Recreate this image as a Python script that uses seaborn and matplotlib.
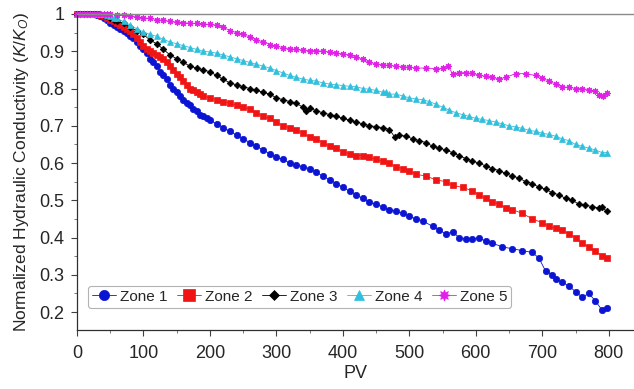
import matplotlib
matplotlib.use("Agg")
import matplotlib.pyplot as plt
from matplotlib.ticker import MultipleLocator
import seaborn as sns
import pandas as pd

zone1_pv = [0, 5, 10, 15, 20, 25, 30, 35, 40, 45, 50, 55, 60, 65, 70, 75, 80, 85, 90, 95, 100, 105, 110, 115, 120, 125, 130, 135, 140, 145, 150, 155, 160, 165, 170, 175, 180, 185, 190, 195, 200, 210, 220, 230, 240, 250, 260, 270, 280, 290, 300, 310, 320, 330, 340, 350, 360, 370, 380, 390, 400, 410, 420, 430, 440, 450, 460, 470, 480, 490, 500, 510, 520, 535, 545, 555, 565, 575, 585, 595, 605, 615, 625, 640, 655, 670, 685, 695, 705, 715, 720, 730, 740, 750, 760, 770, 780, 790, 797]
zone1_k = [1, 1, 1, 1, 1, 1, 0.998, 0.995, 0.99, 0.985, 0.975, 0.97, 0.965, 0.96, 0.955, 0.95, 0.94, 0.935, 0.925, 0.915, 0.905, 0.895, 0.88, 0.87, 0.86, 0.845, 0.835, 0.825, 0.81, 0.80, 0.79, 0.78, 0.77, 0.76, 0.755, 0.745, 0.74, 0.73, 0.725, 0.72, 0.715, 0.705, 0.695, 0.685, 0.675, 0.665, 0.655, 0.645, 0.635, 0.625, 0.615, 0.61, 0.60, 0.595, 0.59, 0.585, 0.575, 0.565, 0.555, 0.545, 0.535, 0.525, 0.515, 0.505, 0.495, 0.49, 0.482, 0.475, 0.47, 0.465, 0.458, 0.45, 0.445, 0.43, 0.42, 0.41, 0.415, 0.40, 0.395, 0.395, 0.40, 0.39, 0.385, 0.375, 0.37, 0.365, 0.36, 0.345, 0.31, 0.30, 0.29, 0.28, 0.27, 0.255, 0.24, 0.25, 0.23, 0.205, 0.21]

zone2_pv = [0, 5, 10, 15, 20, 25, 30, 35, 40, 45, 50, 55, 60, 65, 70, 75, 80, 85, 90, 95, 100, 105, 110, 115, 120, 125, 130, 135, 140, 145, 150, 155, 160, 165, 170, 175, 180, 185, 190, 200, 210, 220, 230, 240, 250, 260, 270, 280, 290, 300, 310, 320, 330, 340, 350, 360, 370, 380, 390, 400, 410, 420, 430, 440, 450, 460, 470, 480, 490, 500, 510, 525, 540, 555, 565, 580, 595, 605, 615, 625, 635, 645, 655, 670, 685, 700, 710, 720, 730, 740, 750, 760, 770, 780, 790, 797]
zone2_k = [1, 1, 1, 1, 1, 1, 1, 0.998, 0.995, 0.99, 0.985, 0.98, 0.975, 0.97, 0.965, 0.96, 0.955, 0.945, 0.935, 0.925, 0.915, 0.905, 0.90, 0.895, 0.89, 0.885, 0.88, 0.87, 0.86, 0.85, 0.84, 0.83, 0.82, 0.81, 0.80, 0.795, 0.79, 0.785, 0.78, 0.775, 0.77, 0.765, 0.76, 0.755, 0.75, 0.745, 0.735, 0.725, 0.72, 0.71, 0.70, 0.695, 0.69, 0.68, 0.67, 0.665, 0.655, 0.645, 0.64, 0.63, 0.625, 0.62, 0.62, 0.615, 0.61, 0.605, 0.60, 0.59, 0.585, 0.58, 0.57, 0.565, 0.555, 0.55, 0.54, 0.535, 0.525, 0.515, 0.505, 0.495, 0.49, 0.48, 0.475, 0.465, 0.45, 0.44, 0.43, 0.425, 0.42, 0.41, 0.40, 0.385, 0.375, 0.365, 0.35, 0.345]

zone3_pv = [0, 5, 10, 15, 20, 25, 30, 35, 40, 45, 50, 55, 60, 70, 80, 90, 100, 110, 120, 130, 140, 150, 160, 170, 180, 190, 200, 210, 220, 230, 240, 250, 260, 270, 280, 290, 300, 310, 320, 330, 340, 345, 350, 360, 370, 380, 390, 400, 410, 420, 430, 440, 450, 460, 470, 478, 485, 495, 505, 515, 525, 535, 545, 555, 565, 575, 585, 595, 605, 615, 625, 635, 645, 655, 665, 675, 685, 695, 705, 715, 725, 735, 745, 755, 765, 775, 785, 790, 797]
zone3_k = [1, 1, 1, 1, 1, 1, 1, 1, 0.998, 0.995, 0.99, 0.985, 0.98, 0.975, 0.965, 0.955, 0.945, 0.93, 0.92, 0.905, 0.89, 0.88, 0.87, 0.86, 0.855, 0.85, 0.845, 0.835, 0.825, 0.815, 0.81, 0.805, 0.80, 0.795, 0.79, 0.785, 0.775, 0.77, 0.765, 0.76, 0.75, 0.74, 0.748, 0.74, 0.735, 0.73, 0.725, 0.72, 0.715, 0.71, 0.705, 0.70, 0.698, 0.695, 0.69, 0.67, 0.675, 0.672, 0.665, 0.66, 0.655, 0.645, 0.64, 0.635, 0.628, 0.62, 0.612, 0.605, 0.60, 0.592, 0.585, 0.58, 0.572, 0.565, 0.56, 0.55, 0.545, 0.535, 0.53, 0.52, 0.515, 0.505, 0.50, 0.49, 0.487, 0.483, 0.48, 0.482, 0.47]

zone4_pv = [0, 5, 10, 15, 20, 25, 30, 35, 40, 45, 50, 55, 60, 70, 80, 90, 100, 110, 120, 130, 140, 150, 160, 170, 180, 190, 200, 210, 220, 230, 240, 250, 260, 270, 280, 290, 300, 310, 320, 330, 340, 350, 360, 370, 380, 390, 400, 410, 420, 430, 440, 450, 460, 465, 470, 480, 490, 500, 510, 520, 530, 540, 550, 560, 570, 580, 590, 600, 610, 620, 630, 640, 650, 660, 670, 680, 690, 700, 710, 720, 730, 740, 750, 760, 770, 780, 790, 797]
zone4_k = [1, 1, 1, 1, 1, 1, 1, 1, 1, 0.998, 0.995, 0.99, 0.988, 0.98, 0.97, 0.96, 0.952, 0.945, 0.94, 0.932, 0.925, 0.92, 0.915, 0.91, 0.905, 0.90, 0.898, 0.895, 0.89, 0.885, 0.88, 0.875, 0.87, 0.865, 0.86, 0.855, 0.848, 0.842, 0.835, 0.83, 0.825, 0.822, 0.82, 0.815, 0.812, 0.81, 0.808, 0.806, 0.805, 0.80, 0.798, 0.795, 0.79, 0.79, 0.785, 0.785, 0.78, 0.775, 0.772, 0.77, 0.765, 0.758, 0.75, 0.742, 0.735, 0.73, 0.725, 0.72, 0.717, 0.714, 0.71, 0.705, 0.70, 0.697, 0.693, 0.688, 0.685, 0.68, 0.677, 0.672, 0.665, 0.66, 0.65, 0.645, 0.64, 0.635, 0.628, 0.628]

zone5_pv = [0, 5, 10, 15, 20, 25, 30, 35, 40, 45, 50, 60, 70, 80, 90, 100, 110, 120, 130, 140, 150, 160, 170, 180, 190, 200, 210, 220, 230, 240, 250, 260, 270, 280, 290, 300, 310, 320, 330, 340, 350, 360, 370, 380, 390, 400, 410, 420, 430, 440, 450, 460, 470, 480, 490, 500, 510, 525, 540, 550, 558, 565, 575, 585, 595, 605, 615, 625, 635, 645, 660, 675, 690, 700, 710, 720, 730, 740, 750, 760, 770, 780, 785, 792, 797]
zone5_k = [1, 1, 1, 1, 1, 1, 1, 1, 1, 1, 1, 0.998, 0.997, 0.995, 0.993, 0.99, 0.988, 0.985, 0.983, 0.98, 0.978, 0.977, 0.975, 0.975, 0.973, 0.972, 0.97, 0.965, 0.955, 0.95, 0.945, 0.938, 0.93, 0.925, 0.918, 0.913, 0.91, 0.907, 0.905, 0.903, 0.902, 0.902, 0.90, 0.898, 0.895, 0.893, 0.89, 0.885, 0.878, 0.87, 0.866, 0.864, 0.862, 0.86, 0.858, 0.857, 0.855, 0.855, 0.853, 0.855, 0.86, 0.84, 0.842, 0.843, 0.841, 0.835, 0.833, 0.83, 0.825, 0.83, 0.84, 0.84, 0.835, 0.828, 0.82, 0.812, 0.805, 0.803, 0.80, 0.80, 0.797, 0.793, 0.783, 0.78, 0.787]

zone_names = ["Zone 1", "Zone 2", "Zone 3", "Zone 4", "Zone 5"]
x_ticks = [0, 100, 200, 300, 400, 500, 600, 700, 800]
y_ticks = [0.2, 0.3, 0.4, 0.5, 0.6, 0.7, 0.8, 0.9, 1.0]
y_tick_labels = ["0.2", "0.3", "0.4", "0.5", "0.6", "0.7", "0.8", "0.9", "1"]

series = [(zone1_pv, zone1_k), (zone2_pv, zone2_k), (zone3_pv, zone3_k),
          (zone4_pv, zone4_k), (zone5_pv, zone5_k)]
colors = ["#0a14d2", "#f01414", "#000000", "#30c0dc", "#e020e6"]
markers = ["o", "s", "D", "^", (8, 1, 0)]
msizes = [4.6, 5.0, 3.4, 4.2, 5.0]

sns.set_theme(style="white")
plt.rcParams["font.family"] = ["Liberation Sans", "DejaVu Sans"]
plt.rcParams["mathtext.fontset"] = "custom"
plt.rcParams["mathtext.rm"] = "Liberation Sans"
plt.rcParams["mathtext.it"] = "Liberation Sans:italic"

fig = plt.figure(figsize=(6.34, 3.89), dpi=100)
ax = fig.add_axes([77 / 634, 1 - 330 / 389, 557 / 634, 316 / 389])

frames = []
for name, (pv, k) in zip(zone_names, series):
    frames.append(pd.DataFrame({"PV": pv, "K": k, "Zone": name}))
df = pd.concat(frames, ignore_index=True)

handles = []
for name, c, m, ms in zip(zone_names, colors, markers, msizes):
    sub = df[df["Zone"] == name]
    sns.lineplot(data=sub, x="PV", y="K", ax=ax, color=c, lw=0.6,
                 marker=m, markersize=ms, markeredgecolor=c, markeredgewidth=0.5,
                 markerfacecolor=c, estimator=None, sort=False, clip_on=False,
                 legend=False)
    handles.append(ax.lines[-1])

ax.set_xlim(0, 838)
ax.set_ylim(0.152, 1.0)
ax.set_xticks(x_ticks)
ax.set_yticks(y_ticks)
ax.set_yticklabels(y_tick_labels)
ax.xaxis.set_minor_locator(MultipleLocator(50))
ax.yaxis.set_minor_locator(MultipleLocator(0.05))
ax.tick_params(axis="both", which="major", labelsize=13, length=4, width=0.8,
               direction="out", color="#404040", left=True, bottom=True)
ax.tick_params(axis="x", which="major", pad=7)
ax.tick_params(axis="y", which="major", pad=5)
ax.tick_params(axis="both", which="minor", length=2.5, width=0.6, direction="out",
               color="#606060", left=True, bottom=True)

for s in ["left", "bottom"]:
    ax.spines[s].set_color("#303030")
    ax.spines[s].set_linewidth(0.9)
ax.spines["top"].set_color("#8a8a8a")
ax.spines["top"].set_linewidth(1.0)
ax.spines["right"].set_visible(False)

ax.set_xlabel("PV", fontsize=13, labelpad=2)
ax.set_ylabel(r"Normalized Hydraulic Conductivity ($\mathit{K/K_O}$)", fontsize=12.5, labelpad=6)

leg = ax.legend(handles, zone_names, loc="center left", bbox_to_anchor=(0.02, 0.105),
                ncol=5, fontsize=11, frameon=True, fancybox=True, handlelength=1.6,
                handletextpad=0.25, columnspacing=0.6, borderpad=0.25,
                borderaxespad=0, markerscale=1.6)
leg.get_frame().set_edgecolor("#a0a0a0")
leg.get_frame().set_linewidth(0.8)

fig.savefig("out.png", dpi=100)
